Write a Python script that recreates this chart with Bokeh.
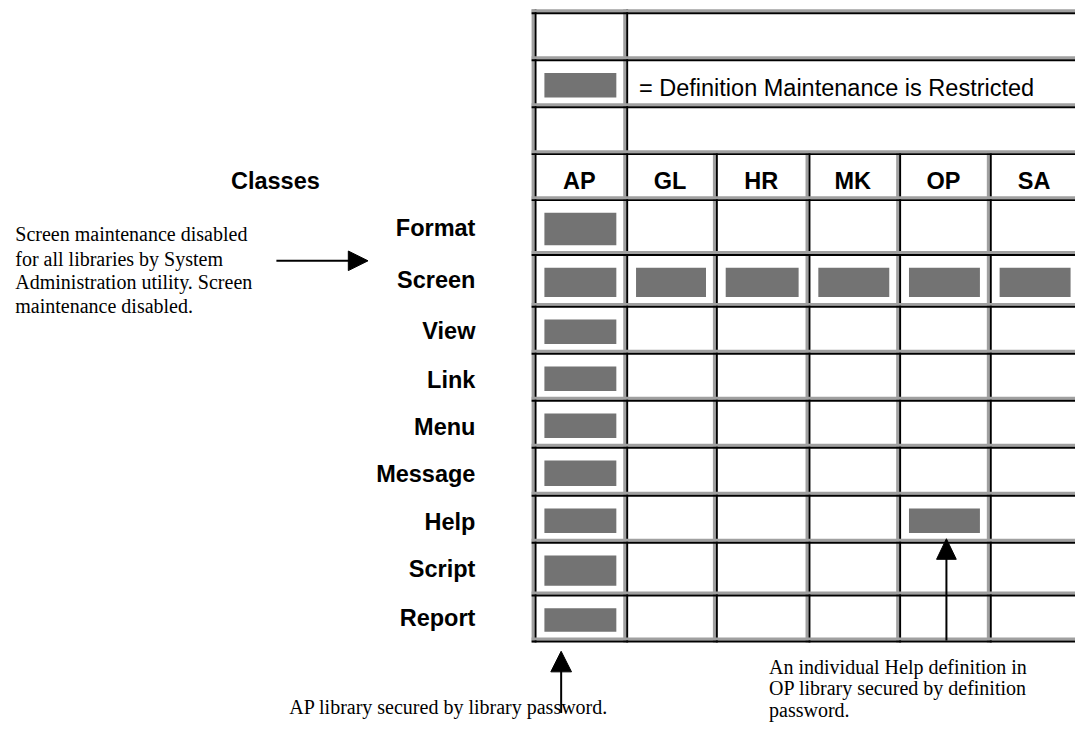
from bokeh.plotting import figure
from bokeh.models import Range1d
from bokeh.core.properties import value
from bokeh.embed import file_html
from bokeh.resources import INLINE

# ---------------- data ----------------
classes = ["Format", "Screen", "View", "Link", "Menu", "Message", "Help", "Script", "Report"]
libraries = ["AP", "GL", "HR", "MK", "OP", "SA"]
restricted_library = ["AP", "AP", "AP", "AP", "AP", "AP", "AP", "AP", "AP",
                      "GL", "HR", "MK", "OP", "SA", "OP"]
restricted_class = ["Format", "Screen", "View", "Link", "Menu", "Message", "Help", "Script", "Report",
                    "Screen", "Screen", "Screen", "Screen", "Screen", "Help"]
legend_text = "= Definition Maintenance is Restricted"
header_text = "Classes"
note_left = ["Screen maintenance disabled", "for all libraries by System",
             "Administration utility. Screen", "maintenance disabled."]
note_ap = ["AP library secured by library password."]
note_op = ["An individual Help definition in", "OP library secured by definition", "password."]

# ---------------- layout (reference pixels) ----------------
REF_W, REF_H = 1091, 749
col_edges = [542, 635, 726, 820, 912, 1004, 1096]
top_edges = [12, 60, 108, 156]           # three top rows (legend area)
body_edges = [156, 203, 259, 312, 360, 408, 456, 505, 553, 607, 654]  # header + 9 class rows
label_x = 482
label_baselines = [240, 294, 346, 396, 444, 492, 541, 589, 639]
BOLD_DY = -8     # renderer baseline correction
SERIF_DY = -6

GRAY_LINE = "#a0a0a0"
BOX = "#737373"
SANS = value("Liberation Sans")
SERIF = value("Liberation Serif")
BOLD_SIZE = "23.5px"
SERIF_SIZE = "20px"

W, H = 1075, 733
p = figure(width=W, height=H, x_range=Range1d(0, REF_W), y_range=Range1d(REF_H, 0),
           output_backend="svg", toolbar_location=None, min_border=0)
p.axis.visible = False
p.grid.visible = False
p.outline_line_color = None
p.background_fill_color = "white"
p.border_fill_color = "white"

x_left, x_right = col_edges[0], col_edges[-1] + 2

def hline(b):
    p.quad(left=x_left - 3, right=x_right, top=b - 3, bottom=b, fill_color=GRAY_LINE, line_color=None)
    p.quad(left=x_left - 3, right=x_right, top=b, bottom=b + 2, fill_color="black", line_color=None)

def vline(x, y0, y1):
    p.quad(left=x - 3, right=x, top=y0, bottom=y1, fill_color=GRAY_LINE, line_color=None)
    p.quad(left=x, right=x + 2, top=y0, bottom=y1, fill_color="black", line_color=None)

# vertical lines
for x in [col_edges[0], col_edges[1], col_edges[-1]]:
    vline(x, top_edges[0] - 3, top_edges[-1])
for x in col_edges:
    vline(x, body_edges[0], body_edges[-1] + 2)
# horizontal lines
for b in top_edges + body_edges[1:]:
    hline(b)

# restricted boxes
def box(ci, r0, r1):
    l, r = col_edges[ci] + 10, col_edges[ci + 1] - 10
    return l, r, r0 + 14, r1 - 9

bl, br, bt, bb = [], [], [], []
# legend swatch
l, r, t, b = box(0, top_edges[1], top_edges[2])
bl.append(l); br.append(r); bt.append(t); bb.append(b)
for lib, cls in zip(restricted_library, restricted_class):
    ci = libraries.index(lib)
    ri = classes.index(cls) + 1
    l, r, t, b = box(ci, body_edges[ri], body_edges[ri + 1])
    bl.append(l); br.append(r); bt.append(t); bb.append(b)
p.quad(left=bl, right=br, top=bt, bottom=bb, fill_color=BOX, line_color=None)

# legend text
p.text(x=[648], y=[97 + BOLD_DY], text=[legend_text], text_font=SANS, text_font_size=BOLD_SIZE,
       text_color="black", text_baseline="alphabetic", text_align="left")

# header row
hx = [(col_edges[i] + col_edges[i + 1]) / 2 - 1 for i in range(len(libraries))]
p.text(x=hx, y=[192 + BOLD_DY] * len(libraries), text=libraries, text_font=SANS, text_font_size=BOLD_SIZE,
       text_font_style="bold", text_color="black", text_baseline="alphabetic", text_align="center")
p.text(x=[279], y=[192 + BOLD_DY], text=[header_text], text_font=SANS, text_font_size=BOLD_SIZE,
       text_font_style="bold", text_color="black", text_baseline="alphabetic", text_align="center")

# class labels
p.text(x=[label_x] * len(classes), y=[v + BOLD_DY for v in label_baselines], text=classes,
       text_font=SANS, text_font_size=BOLD_SIZE, text_font_style="bold", text_color="black",
       text_baseline="alphabetic", text_align="right")

# notes
p.text(x=[15] * len(note_left), y=[v + SERIF_DY for v in [245, 270, 294, 318]], text=note_left,
       text_font=SERIF, text_font_size=SERIF_SIZE, text_color="black",
       text_baseline="alphabetic", text_align="left")
p.text(x=[293], y=[728 + SERIF_DY], text=note_ap, text_font=SERIF,
       text_font_size=SERIF_SIZE, text_color="black", text_baseline="alphabetic", text_align="left")
p.text(x=[780] * len(note_op), y=[v + SERIF_DY for v in [687, 709, 731]], text=note_op,
       text_font=SERIF, text_font_size=SERIF_SIZE, text_color="black",
       text_baseline="alphabetic", text_align="left")

# arrows
ay = 266
p.line(x=[280, 356], y=[ay, ay], line_color="black", line_width=2)
p.patch(x=[353, 373, 353], y=[ay - 10, ay, ay + 10], fill_color="black", line_color="black", line_width=1)

ax = 569
p.line(x=[ax, ax], y=[684, 728], line_color="black", line_width=2)
p.patch(x=[ax - 10.5, ax, ax + 10.5], y=[686, 665, 686], fill_color="black", line_color="black", line_width=1)

ox = (col_edges[4] + col_edges[5]) / 2 + 2
otip = body_edges[8] - 3
p.line(x=[ox, ox], y=[otip + 19, body_edges[-1]], line_color="black", line_width=2)
p.patch(x=[ox - 10, ox, ox + 10], y=[otip + 21, otip, otip + 21], fill_color="black", line_color="black", line_width=1)

open("out.html", "w").write(file_html(p, INLINE))
